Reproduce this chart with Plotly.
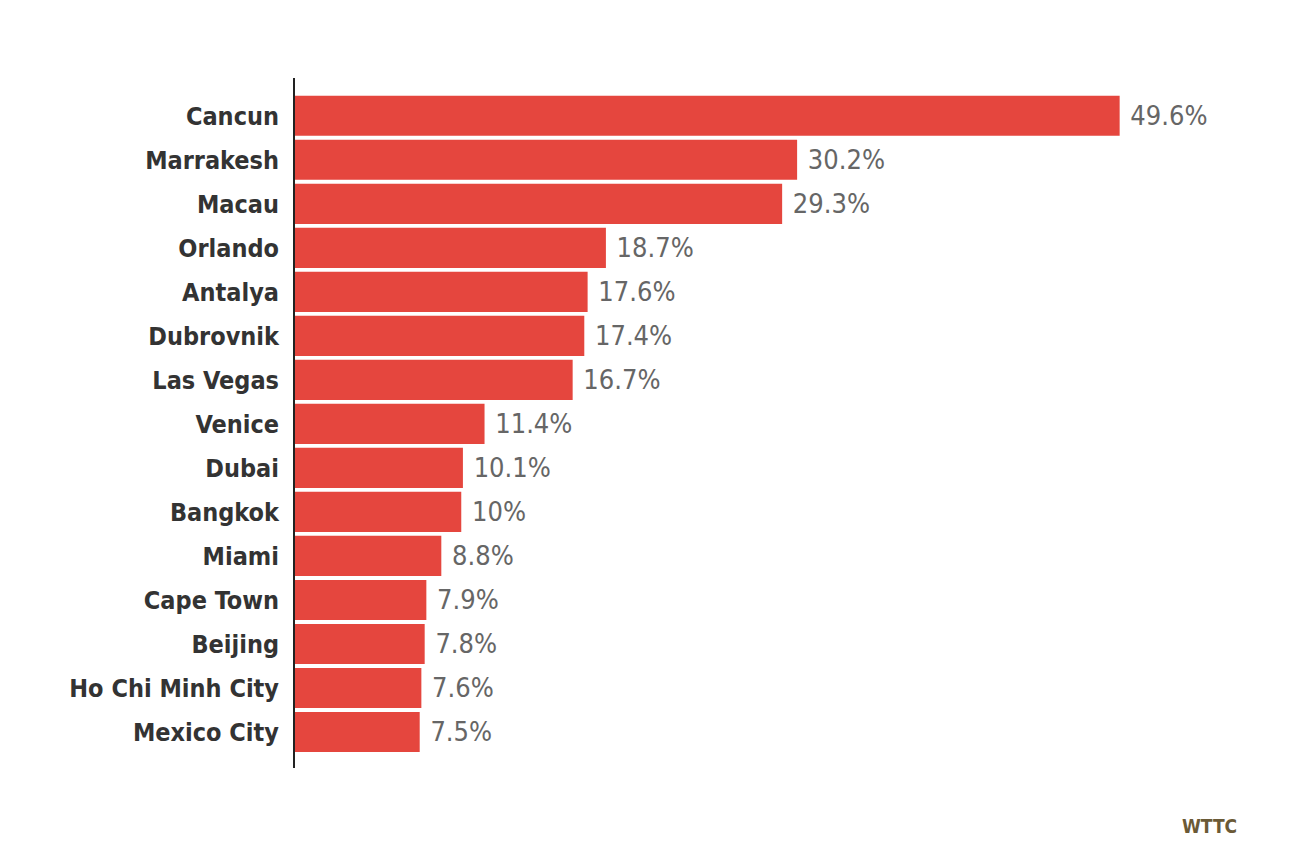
import plotly.graph_objects as go

# data
cities = ['Cancun', 'Marrakesh', 'Macau', 'Orlando', 'Antalya', 'Dubrovnik', 'Las Vegas',
          'Venice', 'Dubai', 'Bangkok', 'Miami', 'Cape Town', 'Beijing', 'Ho Chi Minh City',
          'Mexico City']
growth = [49.6, 30.2, 29.3, 18.7, 17.6, 17.4, 16.7, 11.4, 10.1, 10.0, 8.8, 7.9, 7.8, 7.6, 7.5]
labels = ['49.6%', '30.2%', '29.3%', '18.7%', '17.6%', '17.4%', '16.7%', '11.4%', '10.1%',
          '10%', '8.8%', '7.9%', '7.8%', '7.6%', '7.5%']

FONT = 'DejaVu Sans Condensed, sans-serif'

fig = go.Figure(go.Bar(
    x=growth, y=cities, orientation='h',
    marker=dict(color='#E5463E', line=dict(width=0)),
    text=['\u00a0' + t for t in labels],
    textposition='outside',
    textfont=dict(family=FONT, size=27, color='#666666'),
    cliponaxis=False,
    hoverinfo='skip',
))

fig.update_layout(
    width=1308, height=858,
    plot_bgcolor='white', paper_bgcolor='white',
    margin=dict(l=287, r=65, t=70, b=98),
    bargap=0.09,
    showlegend=False,
    annotations=[dict(text='<b>WTTC</b>', x=0.987, y=-0.084, xref='paper', yref='paper',
                      xanchor='right', yanchor='middle', showarrow=False,
                      font=dict(family=FONT, size=19, color='#6B5A36'))],
)
fig.update_xaxes(range=[0, 57.5], visible=False, fixedrange=True)
fig.update_yaxes(
    categoryorder='array', categoryarray=cities,
    range=[len(cities) - 1 + 0.82, -0.86],
    showline=True, linecolor='#222222', linewidth=2,
    showgrid=False, zeroline=False, ticks='',
    ticklabelstandoff=9,
    tickfont=dict(family=FONT, size=25, color='#333333', weight='bold'),
)

fig.write_html('out.html')
